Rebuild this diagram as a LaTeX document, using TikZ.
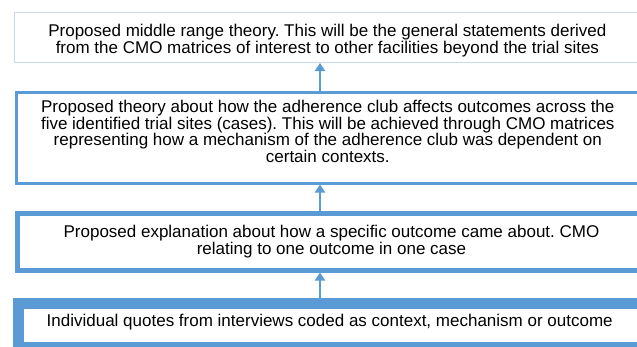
\documentclass[tikz,border=0pt]{standalone}
\usepackage{fontspec}
\setmainfont{Liberation Sans}
\usetikzlibrary{arrows.meta}
\definecolor{boxblue}{HTML}{5B9BD5}
\definecolor{paleblue}{HTML}{C6D9EE}
\frenchspacing
\begin{document}
\begin{tikzpicture}[x=1pt,y=-1pt,
  boxtext/.style={align=center,font=\fontsize{17.0}{16.8}\selectfont,inner sep=0pt},
  frame/.style={fill=white,anchor=north west,inner sep=0pt},
  upconn/.style={draw=boxblue,line width=2pt,-{Triangle[width=10pt,length=8pt]}}]
\useasboundingbox (0,0) rectangle (637,346);
\clip (0,0) rectangle (637,346);
% boxes
\node[frame,draw=paleblue,line width=1pt,minimum width=640pt,minimum height=50pt] (b1) at (14,12) {};
\node[frame,draw=boxblue,line width=3pt,minimum width=640pt,minimum height=91pt] (b2) at (14.5,90.5) {};
\node[frame,draw=boxblue,line width=5pt,minimum width=640pt,minimum height=57pt] (b3) at (14.5,210.5) {};
\node[frame,draw=boxblue,line width=11pt,minimum width=628pt,minimum height=44pt] (b4) at (12.5,297.5) {};
% texts
\node[boxtext] (t1) at (327.4,41)
  {Proposed middle range theory. This will be the general statements derived\\from the CMO matrices of interest to other facilities beyond the trial sites};
\node[boxtext] (t2) at (327.8,131.5)
  {Proposed theory about how the adherence club affects outcomes across the\\five identified trial sites (cases). This will be achieved through CMO matrices\\representing how a mechanism of the adherence club was dependent on\\certain contexts.};
\node[boxtext] (t3) at (331.5,241.5)
  {Proposed explanation about how a specific outcome came about. CMO\\relating to one outcome in one case};
\node[boxtext] (t4) at (329.7,322)
  {Individual quotes from interviews coded as context, mechanism or outcome};
% connectors
\draw[upconn] (b2.north -| 320,0) -- (b1.south -| 320,0);
\draw[upconn] (b3.north -| 320,0) -- (b2.south -| 320,0);
\draw[upconn] (b4.north -| 320,0) -- (b3.south -| 320,0);
\end{tikzpicture}
\end{document}
